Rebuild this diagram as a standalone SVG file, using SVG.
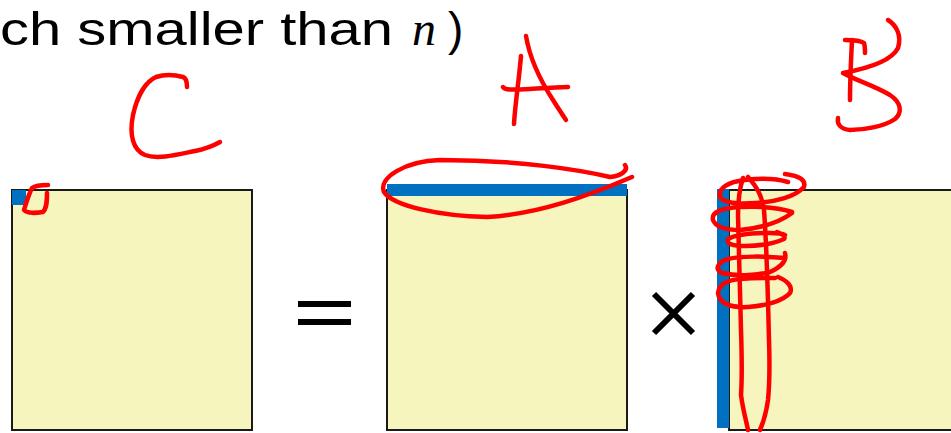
<svg xmlns="http://www.w3.org/2000/svg" width="951" height="433" viewBox="0 0 951 433">
<style>
.mat{fill:#f6f5be;stroke:#1a1a1a;stroke-width:2}
.bar{fill:#0070c0}
.ink{fill:none;stroke:#ff0000;stroke-width:4.5;stroke-linecap:round;stroke-linejoin:round}
.op{stroke:#000;stroke-width:6;fill:none}
.t{font-family:"Liberation Sans","Open Sans",sans-serif;font-size:46px;fill:#000}
</style>
<rect width="951" height="433" fill="#fff"/>
<text class="t" x="0" y="45" textLength="393" lengthAdjust="spacingAndGlyphs">ch smaller than</text>
<text x="412" y="45" style="font-family:'Liberation Serif',serif;font-style:italic;font-size:48px">n</text>
<text class="t" x="448" y="45">)</text>

<g id="matC">
<rect class="mat" x="12" y="190" width="240" height="240"/>
<rect class="bar" x="12" y="190" width="14" height="15"/>
</g>
<g id="matA">
<rect class="mat" x="387" y="190" width="240" height="240"/>
<rect class="bar" x="387" y="184" width="240" height="12"/>
</g>
<g id="matB">
<rect class="mat" x="729" y="190" width="240" height="240"/>
<rect class="bar" x="717" y="189" width="12" height="239"/>
</g>
<g id="ops">
<path class="op" d="M298,304H351M298,322H351"/>
<path class="op" d="M654,294L693,333M693,294L654,333" stroke-width="5"/>
</g>
<g id="annotations">
<path class="ink" d="M187,87 C187,82 186,78 183,77 C176,75 165,74 156,77 C145,82 137,97 133,115 C129,135 133,150 145,155 C158,160 180,154 195,151 C205,149 213,146 220,142"/>
<path class="ink" d="M521,56 C519,80 515,105 514,124"/>
<path class="ink" d="M526,36 C530,60 540,80 553,100 C558,108 562,114 566,120"/>
<path class="ink" d="M503,87 C505,90 510,90 530,89 C545,88 558,87 568,87"/>
<path class="ink" d="M852,40 C851,60 850,80 850,100"/>
<path class="ink" d="M845,40 C852,40 860,40 864,43 C865,46 865,50 865,53"/>
<path class="ink" d="M888,20 C896,25 902,35 898,48 C892,60 870,68 843,73 C855,80 875,86 890,95 C902,103 902,113 895,119 C885,126 865,130 850,130 C840,129 837,124 838,118"/>
<path class="ink" d="M48,185 C42,185 36,185 32,188 C28,196 26,204 24,210 C28,214 36,213 43,212 C47,208 47,200 47,193"/>
<path class="ink" d="M625,165 C629,171 620,176 610,177 C580,170 520,160 440,160 C405,161 378,178 384,192 C393,206 440,216 487,217 C540,214 590,195 632,177"/>
<path class="ink" d="M743,178 C739,190 738,200 738,215 C739,250 740,290 741,330 C742,360 742,380 741,395 C743,410 746,420 748,430"/>
<path class="ink" d="M748,177 C756,186 762,195 764,210 C767,250 768,300 769,340 C770,370 769,390 768,400 C766,415 763,423 760,430"/>
<path class="ink" d="M788,182 C775,178 760,178 745,180 C728,182 718,188 720,197 C725,204 740,204 755,203 C775,202 795,197 804,187 C806,180 800,176 785,174"/>
<path class="ink" d="M792,212 C780,208 760,206 740,207 C722,208 711,212 713,220 C716,228 728,230 740,230 C760,228 780,222 792,213"/>
<path class="ink" d="M777,232 C782,234 786,236 784,239 C775,243 760,246 745,246 C733,246 726,244 728,239 C735,235 750,233 770,233 C777,233 782,233 785,235"/>
<path class="ink" d="M785,253 C787,260 783,266 770,272 C755,276 735,276 722,273 C714,269 718,262 728,259 C740,256 765,256 785,258"/>
<path class="ink" d="M778,277 C788,281 793,287 790,293 C783,301 765,306 748,307 C730,308 719,303 718,293 C719,284 728,280 740,279 C755,278 768,278 775,278"/>
</g>
</svg>
